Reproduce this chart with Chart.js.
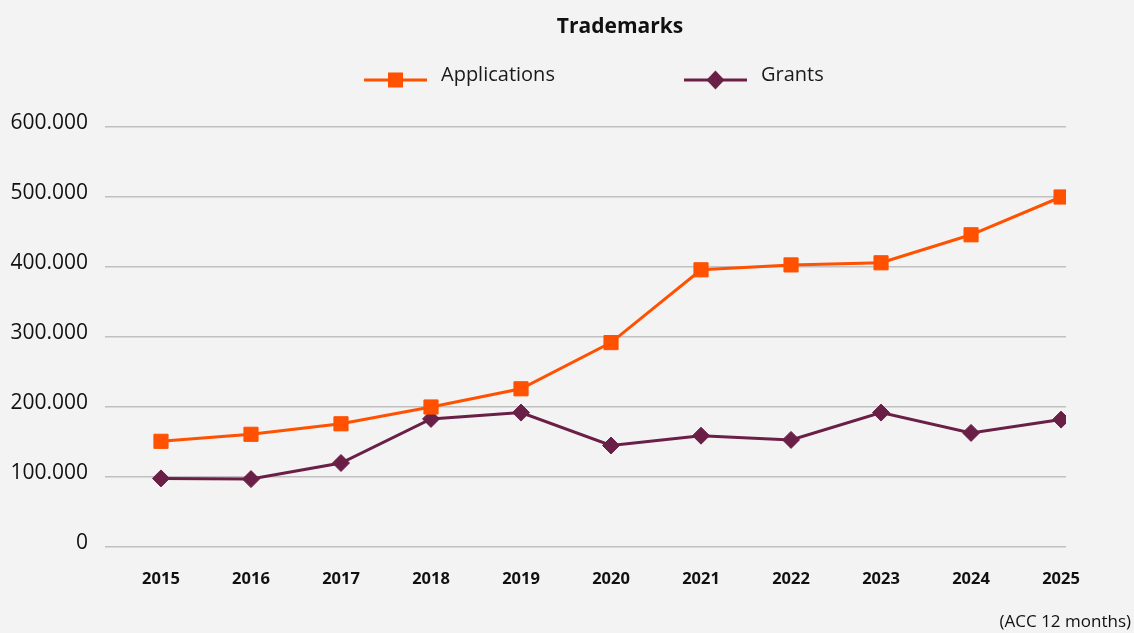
<!DOCTYPE html>
<html>
<head>
<meta charset="utf-8">
<script src="https://cdn.jsdelivr.net/npm/chart.js@4.4.1/dist/chart.umd.min.js"></script>
<style>
html,body{margin:0;padding:0;background:#f3f3f3;}
#wrap{width:1134px;height:633px;}
canvas{display:block;}
</style>
</head>
<body>
<div id="wrap"><canvas id="c" width="1134" height="633"></canvas></div>
<script>
// ---- data ----
const categories = ['2015','2016','2017','2018','2019','2020','2021','2022','2023','2024','2025'];
const applications = [151000,161000,176000,200000,226000,292000,396000,403000,406000,446000,500000];
const grants = [98000,97000,120000,183000,192000,145000,159000,153000,192000,163000,182000];
const seriesNames = ['Applications','Grants'];
const chartTitle = 'Trademarks';
const footnote = '(ACC 12 months)';
const yTickValues = [0,100000,200000,300000,400000,500000,600000];

// ---- styles ----
const ORANGE = '#ff5100';
const PURPLE = '#6a1f46';
const FONT = "'Open Sans', 'Noto Sans', sans-serif";

function fmt(v){ return String(v).replace(/\B(?=(\d{3})+(?!\d))/g,'.'); }

function makeIcon(color, shape){
  const c = document.createElement('canvas');
  c.width = 63; c.height = 30;
  const g = c.getContext('2d');
  const cy = 20;
  g.strokeStyle = color; g.lineWidth = 3;
  g.beginPath(); g.moveTo(0,cy); g.lineTo(63,cy); g.stroke();
  g.fillStyle = color;
  if(shape === 'rect'){
    g.fillRect(31.5-7.5, cy-7.5, 15, 15);
  } else {
    g.beginPath();
    g.moveTo(31.5-9, cy); g.lineTo(31.5, cy-9.5); g.lineTo(40.5, cy); g.lineTo(31.5, cy+9.5);
    g.closePath(); g.fill();
  }
  return c;
}
const icons = [makeIcon(ORANGE,'rect'), makeIcon(PURPLE,'diamond')];

const LEGEND_PAD = 125;
const LEGEND_FONT = 20;

const placer = {
  id: 'placer',
  afterLayout(chart){
    const t = chart.titleBlock;
    if (t) { const w = t.right - t.left; t.left = 620 - w/2; t.right = 620 + w/2; }
    const lg = chart.legend;
    if (lg && lg.lineWidths) {
      const P = LEGEND_PAD;
      const rowW = lg.lineWidths[0] - P;
      const cx = 360 + rowW/2;
      const w = lg.right - lg.left;
      lg.left = cx - w/2; lg.right = cx + w/2;
      lg.top = 75 - LEGEND_FONT/2 - P; lg.bottom = 110;
    }
    chart.boxes.forEach(b => {
      if (b.options && b.options.text === footnote) { b.right = 1131; b.left = 1131 - 500; }
    });
  }
};

new Chart(document.getElementById('c'), {
  type: 'line',
  data: {
    datasets: [
      {
        label: seriesNames[0],
        data: applications.map((v,i)=>({x:i, y:v})),
        borderColor: ORANGE, backgroundColor: ORANGE,
        borderWidth: 3,
        pointStyle: 'rect', pointRadius: 10, pointBorderWidth: 1,
        pointBackgroundColor: ORANGE, pointBorderColor: ORANGE,
        tension: 0
      },
      {
        label: seriesNames[1],
        data: grants.map((v,i)=>({x:i, y:v})),
        borderColor: PURPLE, backgroundColor: PURPLE,
        borderWidth: 3,
        pointStyle: 'rectRot', pointRadius: 8.5, pointBorderWidth: 1,
        pointBackgroundColor: PURPLE, pointBorderColor: PURPLE,
        tension: 0
      }
    ]
  },
  options: {
    responsive: false,
    animation: false,
    layout: { padding: { left: 10, right: 68, top: 0, bottom: 0 } },
    plugins: {
      title: {
        display: true, text: chartTitle, color: '#111',
        font: { family: FONT, size: 21, weight: 'bold', lineHeight: 1.2 },
        padding: { top: 14.4, bottom: 0 }
      },
      subtitle: {
        display: true, text: footnote, position: 'bottom', align: 'end', color: '#111',
        font: { family: FONT, size: 17, lineHeight: 1.2 },
        padding: { top: 0, bottom: 1 }
      },
      legend: {
        display: true, position: 'top', align: 'center',
        maxHeight: 87.4,
        labels: {
          usePointStyle: true, pointStyleWidth: 71,
          padding: LEGEND_PAD, color: '#1a1a1a',
          font: { family: FONT, size: LEGEND_FONT },
          generateLabels(chart){
            const items = Chart.defaults.plugins.legend.labels.generateLabels(chart);
            items.forEach((it,i)=>{ it.pointStyle = icons[i]; it.rotation = 0; });
            return items;
          }
        }
      },
      tooltip: { enabled: false }
    },
    scales: {
      x: {
        type: 'linear', min: -0.622, max: 10.055,
        grid: { display: false, drawTicks: false },
        border: { display: false },
        afterBuildTicks(s){ s.ticks = categories.map((c,i)=>({value:i})); },
        afterFit(s){ s.height = 64.6; },
        ticks: {
          autoSkip: false, maxRotation: 0, padding: 22, color: '#111',
          font: { family: FONT, size: 16.5, weight: 'bold' },
          callback: (v) => categories[v]
        }
      },
      y: {
        type: 'linear', min: 0, max: 600000,
        grid: { color: '#c0c0c0', lineWidth: 1.5, drawTicks: false },
        border: { display: false },
        afterBuildTicks(s){ s.ticks = yTickValues.map(v=>({value:v})); },
        afterFit(s){ s.width = 95; },
        ticks: {
          crossAlign: 'near', padding: 17, labelOffset: -4, color: '#111',
          font: { family: FONT, size: 21 },
          callback: (v) => fmt(v)
        }
      }
    }
  },
  plugins: [placer]
});
</script>
</body>
</html>
